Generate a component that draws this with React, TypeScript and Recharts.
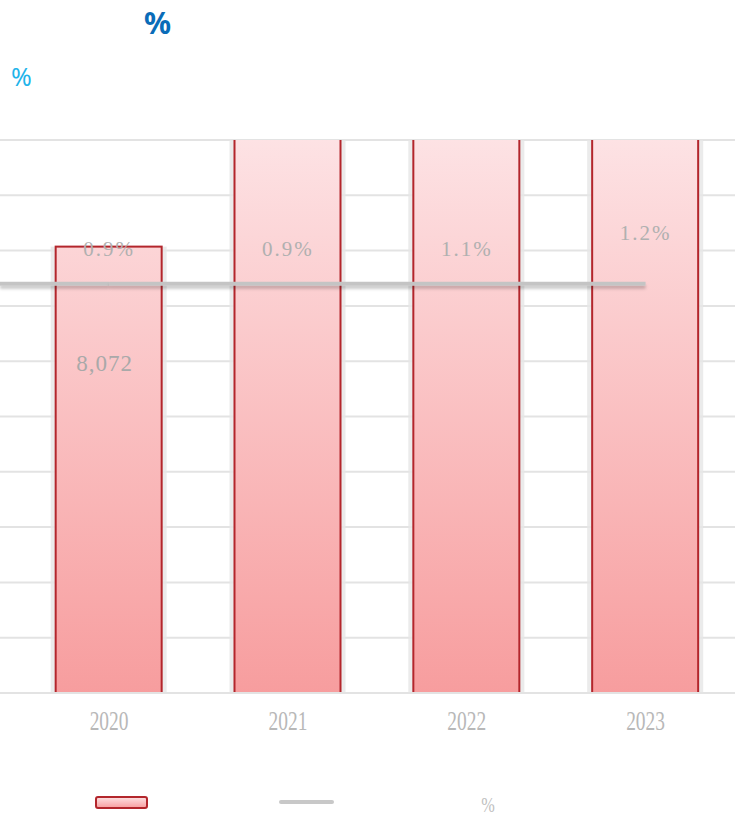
import React from "react";
import {
  Bar,
  CartesianGrid,
  ComposedChart,
  LabelList,
  Line,
  ReferenceLine,
  XAxis,
  YAxis
} from "recharts";

const years = [2020, 2021, 2022, 2023];
const amounts = [8072, 11500, 12800, 13900];
const rates = ["0.9%", "0.9%", "1.1%", "1.2%"];
const lineLevel = [7400, 7400, 7400, 7400];
const yTicks = [0, 1000, 2000, 3000, 4000, 5000, 6000, 7000, 8000, 9000, 10000];
const Y_MAX = 10000;
const X_DOMAIN: [number, number] = [2019.39, 2023.5];

const data = years.map((year, i) => ({
  year,
  amount: amounts[i],
  rate: rates[i],
  level: lineLevel[i]
}));

const serif = "'Liberation Serif', 'DejaVu Serif', serif";

function BarShape(props: any) {
  const { x, y, width, height } = props;
  if (height <= 0) return null;
  return (
    <g>
      <rect x={x - 5} y={y} width={width + 10} height={height + 2} fill="#e6e6e6" opacity={0.8} />
      <rect
        x={x}
        y={y}
        width={width}
        height={height}
        fill="url(#barFill)"
        stroke="#b3262c"
        strokeWidth={2}
      />
    </g>
  );
}

function AmountLabel(props: any) {
  const { x, y, width, value } = props;
  if (value > Y_MAX) return null;
  return (
    <text
      x={x + width / 2 - 4}
      y={y + 124}
      textAnchor="middle"
      fill="#a9a9a9"
      style={{ fontFamily: serif, fontSize: 23, letterSpacing: 1 }}
    >
      {value.toLocaleString("en-US")}
    </text>
  );
}

function RateLabel(props: any) {
  const { x, y, value, index } = props;
  const lift = index === 3 ? 44 : 28;
  return (
    <text
      x={x}
      y={y - lift}
      textAnchor="middle"
      fill="#b0b0b0"
      style={{ fontFamily: serif, fontSize: 21, letterSpacing: 2 }}
    >
      {value}
    </text>
  );
}

function YearTick(props: any) {
  const { x, y, payload } = props;
  return (
    <text
      transform={`translate(${x},${y + 29}) scale(0.72,1)`}
      textAnchor="middle"
      fill="#b8b8b8"
      style={{ fontFamily: serif, fontSize: 27 }}
    >
      {payload.value}
    </text>
  );
}

export default function App() {
  return (
    <div style={{ position: "absolute", left: 0, top: 0, width: 739, height: 822, background: "#fff" }}>
      <div
        style={{
          position: "absolute",
          left: 144,
          top: 2,
          fontFamily: "'Noto Sans', sans-serif",
          fontWeight: 700,
          fontSize: 30,
          color: "#0a6cb8"
        }}
      >
        %
      </div>
      <div
        style={{
          position: "absolute",
          left: 11,
          top: 59,
          fontFamily: "'Noto Sans', sans-serif",
          fontSize: 25,
          color: "#1fb4ea"
        }}
      >
        %
      </div>
      <ComposedChart
        width={739}
        height={822}
        data={data}
        margin={{ top: 140, right: 4, bottom: 89, left: 0 }}
      >
        <defs>
          <linearGradient id="barFill" gradientUnits="userSpaceOnUse" x1="0" x2="0" y1="140" y2="693">
            <stop offset="0%" stopColor="#fde2e4" />
            <stop offset="100%" stopColor="#f79d9e" />
          </linearGradient>
          <filter id="lineShadow" filterUnits="userSpaceOnUse" x="0" y="0" width="739" height="822">
            <feDropShadow dx="0" dy="3" stdDeviation="1.5" floodColor="#000" floodOpacity="0.22" />
          </filter>
        </defs>
        <CartesianGrid horizontal vertical={false} stroke="#e3e3e3" strokeWidth={2} />
        <XAxis
          type="number"
          dataKey="year"
          domain={X_DOMAIN}
          ticks={years}
          allowDataOverflow
          height={40}
          axisLine={{ stroke: "#e3e3e3", strokeWidth: 2 }}
          tickLine={false}
          tick={<YearTick />}
        />
        <YAxis hide domain={[0, Y_MAX]} ticks={yTicks} allowDataOverflow />
        <Bar dataKey="amount" barSize={106} shape={<BarShape />} isAnimationActive={false}>
          <LabelList dataKey="amount" content={<AmountLabel />} />
        </Bar>
        <ReferenceLine
          segment={[
            { x: X_DOMAIN[0], y: lineLevel[0] },
            { x: years[0], y: lineLevel[0] }
          ]}
          stroke="#c4c4c4"
          strokeWidth={4}
          style={{ filter: "url(#lineShadow)" }}
        />
        <Line
          dataKey="level"
          stroke="#c4c4c4"
          strokeWidth={4}
          dot={false}
          activeDot={false}
          style={{ filter: "url(#lineShadow)" }}
          isAnimationActive={false}
        >
          <LabelList dataKey="rate" content={<RateLabel />} />
        </Line>
      </ComposedChart>
      <svg style={{ position: "absolute", left: 0, top: 780 }} width={739} height={42}>
        <defs>
          <linearGradient id="legendFill" x1="0" x2="0" y1="0" y2="1">
            <stop offset="0%" stopColor="#fde2e4" />
            <stop offset="100%" stopColor="#f79d9e" />
          </linearGradient>
        </defs>
        <rect x={96} y={17} width={51} height={11} rx={2} fill="url(#legendFill)" stroke="#b3262c" strokeWidth={2} />
        <line x1={281} x2={332} y1={22} y2={22} stroke="#c8c8c8" strokeWidth={4} strokeLinecap="round" />
        <text
          transform="translate(488,32) scale(0.74,1)"
          textAnchor="middle"
          fill="#c0c0c0"
          style={{ fontFamily: serif, fontSize: 22 }}
        >
          %
        </text>
      </svg>
    </div>
  );
}
